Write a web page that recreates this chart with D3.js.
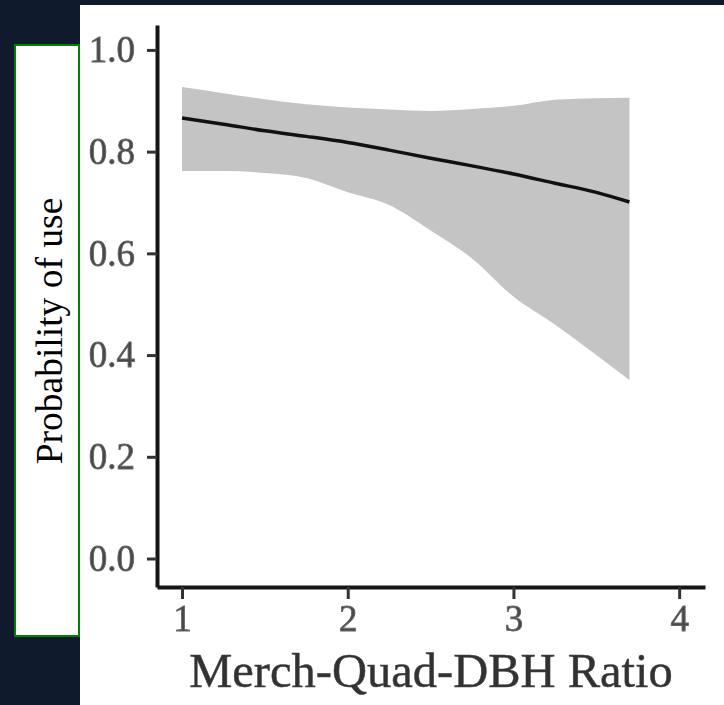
<!DOCTYPE html>
<html>
<head>
<meta charset="utf-8">
<script src="https://cdn.jsdelivr.net/npm/d3@7"></script>
<style>
  body { margin: 0; background: #0f1b2d; }
  svg { display: block; }
</style>
</head>
<body>
<div id="chart"></div>
<script>
// predicted probability of use vs ratio
var ratio = [1, 1.25, 1.5, 1.75, 2, 2.25, 2.5, 2.75, 3, 3.25, 3.5, 3.7];
var fit   = [0.866, 0.854, 0.841, 0.830, 0.818, 0.803, 0.787, 0.772, 0.756, 0.738, 0.720, 0.701];
var upper = [0.927, 0.915, 0.903, 0.893, 0.887, 0.883, 0.880, 0.884, 0.890, 0.902, 0.905, 0.906];
var lower = [0.762, 0.762, 0.758, 0.748, 0.720, 0.695, 0.645, 0.590, 0.515, 0.460, 0.400, 0.351];
var xTicks = [1, 2, 3, 4];
var yTicks = [0, 0.2, 0.4, 0.6, 0.8, 1.0];
var xTitle = "Merch-Quad-DBH Ratio";
var yTitle = "Probability of use";

var W = 724, H = 705;
var svg = d3.select("#chart").append("svg")
  .attr("width", W).attr("height", H);

var defs = svg.append("defs");
defs.append("filter").attr("id", "soft")
  .append("feGaussianBlur").attr("stdDeviation", 0.7);

/* white panel behind the figure */
svg.append("rect")
  .attr("x", 80).attr("y", 5)
  .attr("width", W - 80).attr("height", H - 5)
  .attr("fill", "#ffffff");

var x = d3.scaleLinear().domain([0.849, 4.156]).range([157, 705]);
var y = d3.scaleLinear().domain([-0.056, 1.049]).range([587, 25]);

var rows = ratio.map(function(r, i) {
  return {r: r, fit: fit[i], lo: lower[i], hi: upper[i]};
});

var g = svg.append("g");

/* confidence band */
g.append("path")
  .datum(rows)
  .attr("fill", "#c4c4c4")
  .attr("d", d3.area()
    .x(function(d) { return x(d.r); })
    .y0(function(d) { return y(d.lo); })
    .y1(function(d) { return y(d.hi); })
    .curve(d3.curveMonotoneX));

/* fitted line */
g.append("path")
  .datum(rows)
  .attr("fill", "none")
  .attr("stroke", "#111")
  .attr("stroke-width", 3.5)
  .attr("d", d3.line()
    .x(function(d) { return x(d.r); })
    .y(function(d) { return y(d.fit); })
    .curve(d3.curveMonotoneX));

/* axes */
var gx = g.append("g")
  .attr("transform", "translate(0,587)")
  .call(d3.axisBottom(x).tickValues(xTicks).tickSize(12).tickPadding(6).tickSizeOuter(0)
    .tickFormat(d3.format("d")));
var gy = g.append("g")
  .attr("transform", "translate(157,0)")
  .call(d3.axisLeft(y).tickValues(yTicks).tickSize(10).tickPadding(12).tickSizeOuter(0)
    .tickFormat(d3.format(".1f")));

[gx, gy].forEach(function(a) {
  a.select(".domain").attr("stroke", "#151515").attr("stroke-width", 4);
  a.selectAll(".tick line").attr("stroke", "#333").attr("stroke-width", 3);
  a.selectAll(".tick text")
    .attr("font-family", "'Liberation Serif', 'Times New Roman', serif")
    .attr("font-size", 37)
    .attr("fill", "#4a4a4a")
    .attr("stroke", "#666")
    .attr("stroke-width", 0.8)
    .attr("filter", "url(#soft)");
});

/* x title */
g.append("text")
  .attr("x", 431).attr("y", 687)
  .attr("text-anchor", "middle")
  .attr("font-family", "'Liberation Serif', 'Times New Roman', serif")
  .attr("font-size", 48.5)
  .attr("fill", "#333")
  .attr("stroke", "#444")
  .attr("stroke-width", 0.5)
  .attr("filter", "url(#soft)")
  .text(xTitle);

/* y title box overlay */
svg.append("rect")
  .attr("x", 15).attr("y", 45)
  .attr("width", 64).attr("height", 591)
  .attr("fill", "#ffffff")
  .attr("stroke", "#008000")
  .attr("stroke-width", 2);

svg.append("text")
  .attr("transform", "translate(62,331) rotate(-90)")
  .attr("text-anchor", "middle")
  .attr("font-family", "'Liberation Serif', 'Times New Roman', serif")
  .attr("font-size", 37.5)
  .attr("fill", "#000")
  .text(yTitle);
</script>
</body>
</html>
